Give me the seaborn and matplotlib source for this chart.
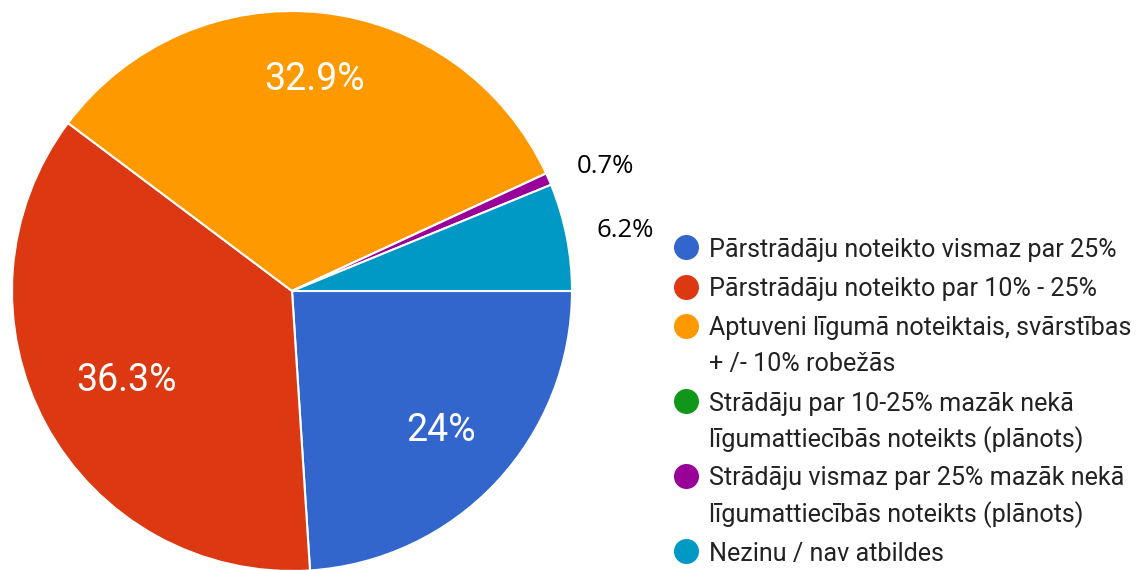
import matplotlib
matplotlib.use("Agg")
import matplotlib.pyplot as plt
import seaborn as sns
import numpy as np

categories = [
    "Pārstrādāju noteikto vismaz par 25%",
    "Pārstrādāju noteikto par 10% - 25%",
    "Aptuveni līgumā noteiktais, svārstības\n+ /- 10% robežās",
    "Strādāju par 10-25% mazāk nekā\nlīgumattiecībās noteikts (plānots)",
    "Strādāju vismaz par 25% mazāk nekā\nlīgumattiecībās noteikts (plānots)",
    "Nezinu / nav atbildes",
]
values = [24.0, 36.3, 32.9, 0.0, 0.7, 6.2]
colors = ["#3366CC", "#DC3912", "#FF9900", "#109618", "#990099", "#0099C6"]


def fmt(v):
    s = f"{v:.1f}"
    if s.endswith(".0"):
        s = s[:-2]
    return s + "%"


sns.set_theme(style="white")
plt.rcParams["font.family"] = ["Roboto", "DejaVu Sans"]

W, H = 1137, 570
fig = plt.figure(figsize=(W / 100, H / 100), dpi=100)
cx, cy, r = 292, 291, 280
ax = fig.add_axes([(cx - r) / W, (H - cy - r) / H, 2 * r / W, 2 * r / H])

INSIDE_MIN = 10
outer_labels = [fmt(v) if 0 < v < INSIDE_MIN else "" for v in values]
wedges, texts, autotexts = ax.pie(
    values,
    colors=colors,
    startangle=0,
    counterclock=False,
    labels=outer_labels,
    labeldistance=1.11,
    autopct=lambda p: fmt(round(p, 1)) if p >= INSIDE_MIN else "",
    pctdistance=0.73,
    wedgeprops=dict(edgecolor="white", linewidth=1.5),
    textprops=dict(fontsize=14, color="black"),
    radius=1.0,
)
for t in texts:
    t.set_family(["Open Sans", "DejaVu Sans"])
    t.set_fontsize(18.5)

# inside label radial distances (fraction of radius), one per slice
pct_dist = [0.73, 0.67, 0.76, 0.7, 0.7, 0.7]
for w, t, d in zip(wedges, autotexts, pct_dist):
    t.set_color("white")
    t.set_fontsize(27)
    mid = np.deg2rad((w.theta1 + w.theta2) / 2)
    t.set_position((d * np.cos(mid), d * np.sin(mid)))
ax.set_xlim(-1, 1)
ax.set_ylim(-1, 1)
ax.set_aspect("equal")
for w in wedges:
    w.set_clip_on(False)

# legend (drawn in figure pixel coordinates, top-down)
lx_marker, lx_text = 686, 709
y = 247
row_gap, line_gap = 39.5, 35.5
for label, c in zip(categories, colors):
    lines = label.split("\n")
    fig.lines.append(plt.Line2D([lx_marker / W], [1 - y / H], transform=fig.transFigure,
                                marker="o", markersize=17, linestyle="",
                                markerfacecolor=c, markeredgecolor=c))
    for k, ln in enumerate(lines):
        fig.text(lx_text / W, 1 - (y + k * line_gap) / H, ln,
                 ha="left", va="center_baseline", fontsize=18.1, color="#222222")
    y += row_gap + line_gap * (len(lines) - 1)

fig.savefig("out.png", dpi=100)
